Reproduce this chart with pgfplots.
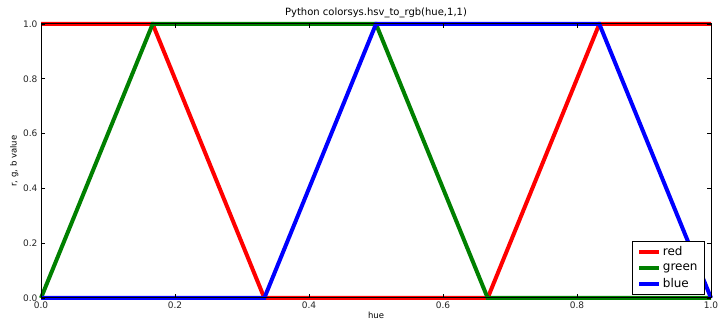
\documentclass[border=0pt]{standalone}
\usepackage{pgfplots}
\pgfplotsset{compat=1.18}
\usepackage{fontspec}
\setmainfont{DejaVu Sans}
\definecolor{mplgreen}{rgb}{0,0.5,0}
\begin{document}
\begin{tikzpicture}
\begin{axis}[name=ax,
  scale only axis, width=670pt, height=274pt,
  xmin=0, xmax=1, ymin=0, ymax=1,
  clip=false, axis on top,
  xtick={0,0.2,0.4,0.6,0.8,1.0},
  ytick={0,0.2,0.4,0.6,0.8,1.0},
  xticklabels={0.0,0.2,0.4,0.6,0.8,1.0},
  yticklabels={0.0,0.2,0.4,0.6,0.8,1.0},
  tick align=inside, major tick length=4pt,
  tick style={black, line width=0.6pt},
  axis line style={line width=1pt},
  ticklabel style={font=\fontsize{9}{10}\selectfont, text=black!85},
  /pgf/number format/assume math mode=true,
  title={Python colorsys.hsv\_to\_rgb(hue,1,1)},
  title style={font=\fontsize{10}{11}\selectfont, yshift=-3pt},
  xlabel={hue}, ylabel={r, g, b value},
  label style={font=\fontsize{8.5}{10}\selectfont},
  xlabel style={yshift=3pt},
  ylabel style={yshift=-2pt},
  legend style={at={(rel axis cs:0.991,0.011)}, anchor=south east,
    font=\fontsize{12}{13}\selectfont, draw=black, line width=0.8pt,
    row sep=2.5pt, inner xsep=5pt, inner ysep=3.5pt},
  legend cell align=left,
  legend image code/.code={\draw[#1, line width=4pt] (0cm,0cm) -- (0.7cm,0cm);},
]
\addplot[red, line width=4pt] coordinates {(0,1) (0.16667,1) (0.33333,0) (0.66667,0) (0.83333,1) (1,1)};
\addplot[mplgreen, line width=4pt] coordinates {(0,0) (0.16667,1) (0.5,1) (0.66667,0) (1,0)};
\addplot[blue, line width=4pt] coordinates {(0,0) (0.33333,0) (0.5,1) (0.83333,1) (1,0)};
\legend{red,green,blue}
\end{axis}
\path[use as bounding box] ([shift={(-41pt,-35pt)}]ax.south west) rectangle ([shift={(13pt,24pt)}]ax.north east);
\end{tikzpicture}
\end{document}
